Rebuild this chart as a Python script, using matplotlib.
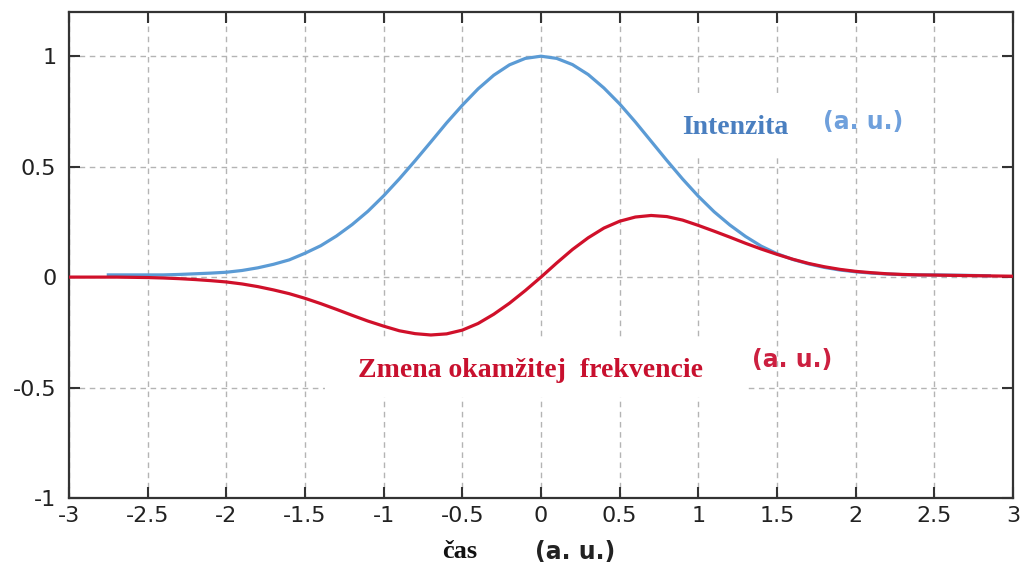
import matplotlib
matplotlib.use('Agg')
import matplotlib.pyplot as plt
from matplotlib.patches import Rectangle

# ---- data ----
t_int = [-2.75, -2.6, -2.5, -2.4, -2.3, -2.2, -2.1, -2.0, -1.9, -1.8, -1.7, -1.6,
         -1.5, -1.4, -1.3, -1.2, -1.1, -1.0, -0.9, -0.8, -0.7, -0.6, -0.5, -0.4,
         -0.3, -0.2, -0.1, 0.0, 0.1, 0.2, 0.3, 0.4, 0.5, 0.6, 0.7, 0.8, 0.9, 1.0,
         1.1, 1.2, 1.3, 1.4, 1.5, 1.6, 1.7, 1.8, 1.9, 2.0, 2.1, 2.2, 2.3, 2.4,
         2.5, 2.6, 2.7, 2.85]
intensity = [0.010, 0.010, 0.010, 0.010, 0.012, 0.015, 0.018, 0.022, 0.030, 0.042,
             0.058, 0.078, 0.108, 0.142, 0.186, 0.238, 0.298, 0.368, 0.445, 0.527,
             0.612, 0.698, 0.778, 0.852, 0.914, 0.961, 0.990, 1.000, 0.990, 0.962,
             0.917, 0.856, 0.784, 0.702, 0.615, 0.528, 0.444, 0.366, 0.296, 0.236,
             0.184, 0.140, 0.106, 0.080, 0.060, 0.044, 0.032, 0.024, 0.018, 0.014,
             0.011, 0.010, 0.010, 0.009, 0.008, 0.006]

t_freq = [-3.0, -2.9, -2.8, -2.7, -2.6, -2.5, -2.4, -2.3, -2.2, -2.1, -2.0, -1.9,
          -1.8, -1.7, -1.6, -1.5, -1.4, -1.3, -1.2, -1.1, -1.0, -0.9, -0.8, -0.7,
          -0.6, -0.5, -0.4, -0.3, -0.2, -0.1, 0.0, 0.1, 0.2, 0.3, 0.4, 0.5, 0.6,
          0.7, 0.8, 0.9, 1.0, 1.1, 1.2, 1.3, 1.4, 1.5, 1.6, 1.7, 1.8, 1.9, 2.0,
          2.1, 2.2, 2.3, 2.4, 2.5, 2.6, 2.7, 2.8, 2.9, 3.0]
freq = [0.0, 0.0, 0.0, 0.0, -0.001, -0.002, -0.004, -0.007, -0.011, -0.016, -0.022,
        -0.031, -0.043, -0.058, -0.075, -0.096, -0.120, -0.146, -0.173, -0.199,
        -0.222, -0.243, -0.256, -0.262, -0.257, -0.240, -0.210, -0.168, -0.118,
        -0.061, 0.0, 0.064, 0.125, 0.178, 0.222, 0.253, 0.272, 0.279, 0.274, 0.258,
        0.234, 0.208, 0.181, 0.153, 0.127, 0.103, 0.081, 0.062, 0.047, 0.035, 0.026,
        0.020, 0.015, 0.012, 0.010, 0.009, 0.008, 0.007, 0.006, 0.005, 0.004]

xticks = [-3, -2.5, -2, -1.5, -1, -0.5, 0, 0.5, 1, 1.5, 2, 2.5, 3]
xtick_labels = ['-3', '-2.5', '-2', '-1.5', '-1', '-0.5', '0', '0.5', '1', '1.5', '2', '2.5', '3']
yticks = [-1, -0.5, 0, 0.5, 1]
ytick_labels = ['-1', '-0.5', '0', '0.5', '1']

label_int = 'Intenzita'
label_freq = 'Zmena okamžitej  frekvencie'
unit = '(a. u.)'
xlabel = 'čas'

BLUE = '#5b9bd5'
RED = '#d0102a'

fig = plt.figure(figsize=(10.22, 5.64), dpi=100)
ax = fig.add_axes([0.0675, 0.117, 0.9237, 0.8617])
ax.set_xlim(-3, 3)
ax.set_ylim(-1, 1.2)

ax.grid(True, color='#b4b4b4', linestyle=(0, (4, 3.3)), linewidth=1.0, zorder=0.5)
ax.set_axisbelow(True)

# white boxes behind the labels
ax.add_patch(Rectangle((-1.373, -0.545), 2.682, 0.265, facecolor='white',
                       edgecolor='none', zorder=1))
ax.add_patch(Rectangle((0.80, 0.545), 0.80, 0.27, facecolor='white',
                       edgecolor='none', zorder=1))

ax.plot(t_int, intensity, color=BLUE, linewidth=2.3, zorder=2)
ax.plot(t_freq, freq, color=RED, linewidth=2.3, zorder=3)

ax.set_xticks(xticks)
ax.set_xticklabels(xtick_labels)
ax.set_yticks(yticks)
ax.set_yticklabels(ytick_labels)
ax.tick_params(direction='in', length=8, width=1.5, top=True, right=True,
               labelsize=16, labelcolor='#222222', color='#333333')
ax.tick_params(axis='x', pad=6)
ax.tick_params(axis='y', pad=9)
for s in ax.spines.values():
    s.set_linewidth(1.6)
    s.set_color('#333333')

ax.text(0.896, 0.679, label_int, color='#4a7fc0', fontsize=20, fontweight='bold',
        family='Liberation Serif', ha='left', va='center', zorder=4)
ax.text(1.792, 0.701, unit, color='#6fa0dc', fontsize=17, fontweight='bold',
        family='DejaVu Sans', ha='left', va='center', zorder=4)
ax.text(-1.163, -0.421, label_freq, color='#c8102e', fontsize=20, fontweight='bold',
        family='Liberation Serif', ha='left', va='center', zorder=4)
ax.text(1.341, -0.376, unit, color='#cc2040', fontsize=17, fontweight='bold',
        family='DejaVu Sans', ha='left', va='center', zorder=4)

fig.text(0.450, 0.023, xlabel, color='#111111', fontsize=19, fontweight='bold',
         family='Liberation Serif', ha='center', va='center')
fig.text(0.5235, 0.022, unit, color='#222222', fontsize=17, fontweight='bold',
         family='DejaVu Sans', ha='left', va='center')

fig.savefig('out.png', dpi=100)
